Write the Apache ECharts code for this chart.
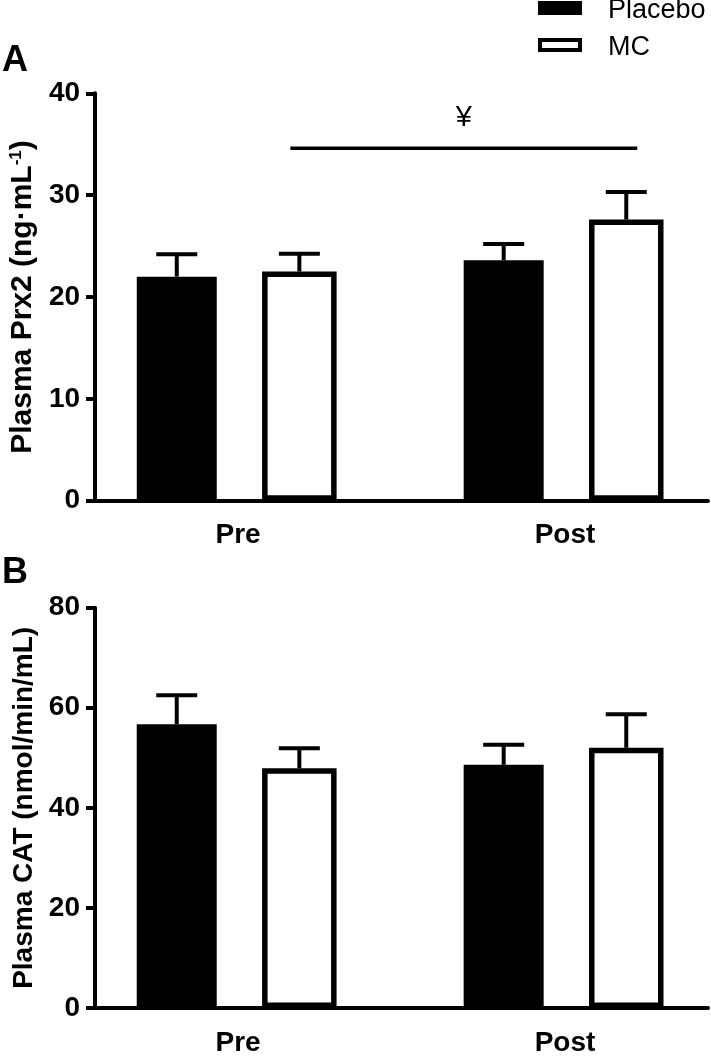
<!DOCTYPE html>
<html>
<head>
<meta charset="utf-8">
<script src="https://cdn.jsdelivr.net/npm/echarts@6/dist/echarts.min.js"></script>
<style>html,body{margin:0;padding:0;background:#fff}#c{width:711px;height:1057px}</style>
</head>
<body>
<div id="c"></div>
<script>
// ---- data ----
const groups = ['Pre', 'Post'];
const seriesNames = ['Placebo', 'MC'];
// Panel A: Plasma Prx2 (ng·mL-1)
const prxPlacebo = [22.0, 23.6];
const prxPlaceboErr = [2.2, 1.6];
const prxMC = [22.5, 27.6];
const prxMCErr = [1.75, 2.7];
const prxTicks = [0, 10, 20, 30, 40];
// Panel B: Plasma CAT (nmol/min/mL)
const catPlacebo = [56.7, 48.6];
const catPlaceboErr = [5.8, 4.0];
const catMC = [47.9, 52.0];
const catMCErr = [4.0, 6.7];
const catTicks = [0, 20, 40, 60, 80];
// significance annotation (panel A): MC Pre vs MC Post
const sigA = { series: 1, from: 0, to: 1, y: 34.6, label: '¥' };

// ---- layout helpers ----
const FONT = '"Liberation Sans", Arial, sans-serif';
const slot = (g, s) => 4 + 16 * g + 6 * s;
const groupCenter = g => 7 + 16 * g;
const labelMap = {};
groups.forEach((g, i) => { labelMap[groupCenter(i)] = g; });

const grids = [
  { left: 95, top: 93.3, width: 616, height: 407.4 },
  { left: 95, top: 607.7, width: 616, height: 404.6 }
];

function xAxes(gi) {
  const base = { type: 'value', gridIndex: gi, min: 0, max: 30, interval: 1, splitLine: { show: false } };
  return [
    Object.assign({}, base, {
      axisLine: { show: true, lineStyle: { color: '#000', width: 4 } },
      axisTick: { show: false },
      axisLabel: {
        show: true, interval: 0, margin: 21, color: '#000', fontSize: 28, fontWeight: 'bold', fontFamily: FONT,
        formatter: v => labelMap[v] || ''
      }
    }),
    Object.assign({}, base, { show: false })
  ];
}

function yAxis(gi, ticks, name, nameGap, nameSize) {
  return {
    type: 'value', gridIndex: gi, min: ticks[0], max: ticks[ticks.length - 1], interval: ticks[1] - ticks[0],
    splitLine: { show: false },
    axisLine: { show: true, lineStyle: { color: '#000', width: 4 } },
    axisTick: { show: true, length: 9, lineStyle: { color: '#000', width: 4 } },
    axisLabel: { margin: 15, color: '#000', fontSize: 28, fontWeight: 'bold', fontFamily: FONT },
    name: name, nameLocation: 'middle', nameRotate: 90, nameGap: nameGap,
    nameTextStyle: {
      color: '#000', fontSize: nameSize, fontWeight: 'bold', fontFamily: FONT,
      rich: { sup: { fontSize: 17, fontWeight: 'bold', fontFamily: FONT, color: '#000', verticalAlign: 'top', lineHeight: nameSize } }
    }
  };
}

function barSeries(name, values, s, gi, xi, yi) {
  const isMC = s === 1;
  return {
    type: 'bar', name: name, xAxisIndex: xi, yAxisIndex: yi,
    barWidth: isMC ? 74.5 : 80,
    data: values.map((v, g) => [slot(g, s), v]),
    itemStyle: isMC ? { color: '#fff', borderColor: '#000', borderWidth: 5.5 } : { color: '#000', borderColor: '#000', borderWidth: 0 },
    emphasis: { disabled: true },
    z: 2
  };
}

function errSeries(values, errs, s, xi, yi) {
  return {
    type: 'custom', xAxisIndex: xi, yAxisIndex: yi, z: 5, clip: false,
    encode: { x: 0, y: 1 },
    data: values.map((v, g) => [slot(g, s), v, errs[g]]),
    renderItem: function (params, api) {
      const x = api.value(0), v = api.value(1), e = api.value(2);
      const p0 = api.coord([x, v]);
      const p1 = api.coord([x, v + e]);
      const half = 20.5;
      return {
        type: 'group', children: [
          { type: 'line', shape: { x1: p0[0], y1: p0[1], x2: p1[0], y2: p1[1] }, style: { stroke: '#000', lineWidth: 4 } },
          { type: 'line', shape: { x1: p1[0] - half, y1: p1[1], x2: p1[0] + half, y2: p1[1] }, style: { stroke: '#000', lineWidth: 4 } }
        ]
      };
    }
  };
}

function sigSeries(sig, xi, yi) {
  return {
    type: 'custom', xAxisIndex: xi, yAxisIndex: yi, z: 5, clip: false,
    encode: { x: [0, 1], y: 2 },
    data: [[slot(sig.from, sig.series), slot(sig.to, sig.series), sig.y]],
    renderItem: function (params, api) {
      const a = api.coord([api.value(0), api.value(2)]);
      const b = api.coord([api.value(1), api.value(2)]);
      const x1 = a[0] - 9, x2 = b[0] + 11;
      return {
        type: 'group', children: [
          { type: 'line', shape: { x1: x1, y1: a[1], x2: x2, y2: a[1] }, style: { stroke: '#000', lineWidth: 3.5 } },
          { type: 'text', x: (x1 + x2) / 2, y: a[1] - 16,
            style: { text: sig.label, fill: '#000', fontSize: 29, fontFamily: FONT, align: 'center', verticalAlign: 'bottom' } }
        ]
      };
    }
  };
}

const option = {
  animation: false,
  backgroundColor: '#fff',
  title: [
    { text: 'A', left: 2, top: 43, padding: 0, textStyle: { fontSize: 36, fontWeight: 'bold', fontFamily: FONT, color: '#000' } },
    { text: 'B', left: 2, top: 555, padding: 0, textStyle: { fontSize: 36, fontWeight: 'bold', fontFamily: FONT, color: '#000' } }
  ],
  legend: {
    data: seriesNames, orient: 'vertical', left: 538, top: -2.5, padding: 0,
    itemWidth: 40, itemHeight: 10, itemGap: 10, icon: 'rect', selectedMode: false,
    itemStyle: { borderWidth: 4, borderColor: '#000' },
    formatter: '{t|{name}}',
    textStyle: {
      fontSize: 27, fontFamily: FONT, color: '#000', padding: [0, 0, 0, 23],
      rich: { t: { fontSize: 27, fontFamily: FONT, color: '#000', padding: [6, 0, 0, 0] } }
    }
  },
  grid: grids,
  xAxis: xAxes(0).concat(xAxes(1)),
  yAxis: [
    yAxis(0, prxTicks, 'Plasma Prx2 (ng·mL{sup|-1})', 55, 30),
    yAxis(1, catTicks, 'Plasma CAT (nmol/min/mL)', 57, 28)
  ],
  series: [
    barSeries('Placebo', prxPlacebo, 0, 0, 0, 0),
    barSeries('MC', prxMC, 1, 0, 1, 0),
    errSeries(prxPlacebo, prxPlaceboErr, 0, 0, 0),
    errSeries(prxMC, prxMCErr, 1, 0, 0),
    sigSeries(sigA, 0, 0),
    barSeries('Placebo', catPlacebo, 0, 1, 2, 1),
    barSeries('MC', catMC, 1, 1, 3, 1),
    errSeries(catPlacebo, catPlaceboErr, 0, 2, 1),
    errSeries(catMC, catMCErr, 1, 2, 1)
  ]
};

const chart = echarts.init(document.getElementById('c'), null, { renderer: 'canvas' });
chart.setOption(option);
</script>
</body>
</html>
